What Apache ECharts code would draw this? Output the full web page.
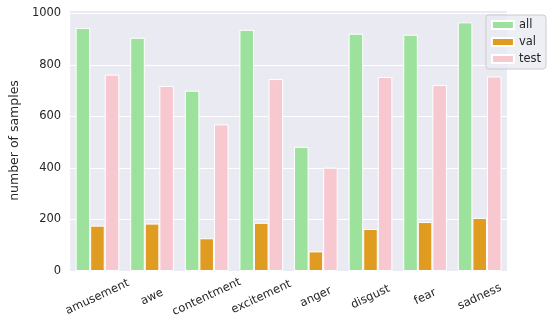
<!DOCTYPE html>
<html><head><meta charset="utf-8">
<script src="https://cdn.jsdelivr.net/npm/echarts@6/dist/echarts.min.js"></script>
<style>html,body{margin:0;padding:0;background:#fff}#c{width:550px;height:326px}</style>
</head><body><div id="c"></div>
<script>
var categories = ['amusement','awe','contentment','excitement','anger','disgust','fear','sadness'];
var allValues  = [943, 905, 700, 936, 482, 921, 917, 965];
var valValues  = [176, 184, 127, 187, 76, 163, 190, 206];
var testValues = [762, 718, 569, 745, 401, 753, 722, 755];
var yTicks = [0, 200, 400, 600, 800, 1000];

var font = 'DejaVu Sans';
var chart = echarts.init(document.getElementById('c'), null, {renderer:'canvas'});
function bar(name, data, color){
  return {name:name, type:'bar', data:data, barGap:'0%', barCategoryGap:'20%',
    itemStyle:{color:color, borderColor:'#fff', borderWidth:1}};
}
chart.setOption({
  animation:false,
  textStyle:{fontFamily:font},
  grid:{left:59, right:43, top:10, bottom:55, show:true, backgroundColor:'#EAEAF2', borderWidth:0},
  legend:{orient:'vertical', right:4, top:15, itemWidth:22, itemHeight:8, itemGap:3,
    padding:[3,5,3,5], backgroundColor:'rgba(234,234,242,0.8)', borderColor:'#cccccc', borderWidth:1, borderRadius:3,
    textStyle:{fontFamily:font, fontSize:11.5, color:'#262626', lineHeight:14},
    icon:'rect', data:['all','val','test']},
  xAxis:{type:'category', data:categories,
    axisLine:{show:false}, axisTick:{show:false}, splitLine:{show:false},
    axisLabel:{rotate:25, align:'center', verticalAlign:'middle', margin:26, interval:0,
      fontFamily:font, fontSize:11.5, color:'#262626'}},
  yAxis:{type:'value', min:0, max:1013, interval:200,
    name:'number of samples', nameLocation:'middle', nameGap:45,
    nameTextStyle:{fontFamily:font, fontSize:12.5, color:'#262626'},
    axisLine:{show:false}, axisTick:{show:false},
    splitLine:{lineStyle:{color:'#ffffff', width:1}},
    axisLabel:{fontFamily:font, fontSize:11.5, color:'#262626', margin:9, showMaxLabel:false,
      formatter:function(v){return yTicks.indexOf(v)>=0 ? String(v) : '';}}},
  series:[bar('all', allValues, '#9CE29C'), bar('val', valValues, '#DF9C20'), bar('test', testValues, '#F7C8D0')]
});
</script></body></html>
